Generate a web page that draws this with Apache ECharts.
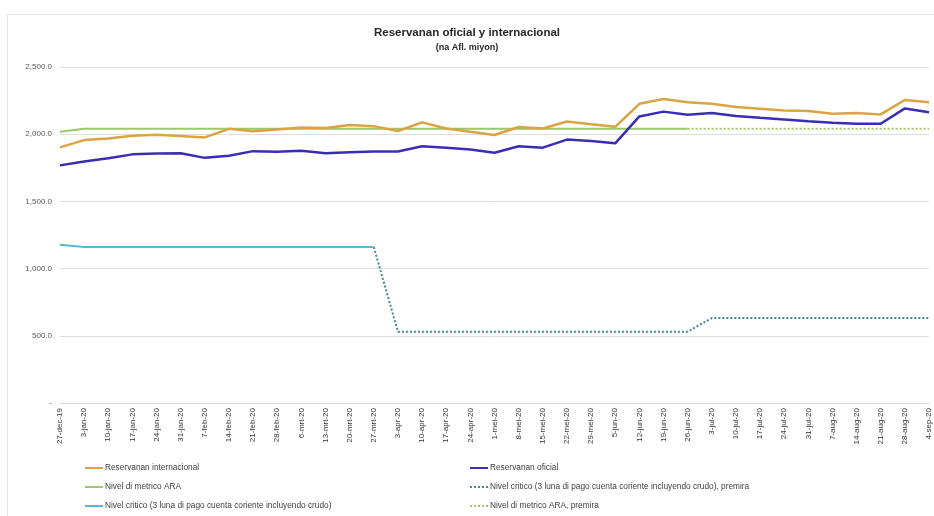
<!DOCTYPE html>
<html>
<head>
<meta charset="utf-8">
<script src="https://cdn.jsdelivr.net/npm/echarts@6/dist/echarts.min.js"></script>
<style>
html,body{margin:0;padding:0;background:#fff;}
#chart{width:934px;height:516px;}
</style>
</head>
<body>
<div id="chart"></div>
<script>
const categories = ['27-dec-19','3-jan-20','10-jan-20','17-jan-20','24-jan-20','31-jan-20','7-feb-20','14-feb-20','21-feb-20','28-feb-20','6-mrt-20','13-mrt-20','20-mrt-20','27-mrt-20','3-apr-20','10-apr-20','17-apr-20','24-apr-20','1-mei-20','8-mei-20','15-mei-20','22-mei-20','29-mei-20','5-jun-20','12-jun-20','19-jun-20','26-jun-20','3-jul-20','10-jul-20','17-jul-20','24-jul-20','31-jul-20','7-aug-20','14-aug-20','21-aug-20','28-aug-20','4-sep-20'];

const reservasInternacional = [1902,1956,1968,1988,1996,1986,1976,2040,2022,2035,2050,2046,2068,2060,2024,2088,2042,2018,1994,2054,2042,2094,2074,2055,2226,2262,2238,2226,2202,2189,2176,2172,2152,2157,2147,2255,2238];

const reservasOficial = [1768,1797,1821,1850,1856,1858,1824,1840,1874,1870,1877,1858,1865,1872,1872,1910,1900,1886,1862,1910,1900,1960,1950,1932,2132,2168,2145,2158,2136,2122,2110,2097,2086,2078,2078,2192,2164];

const nivelARA = [2018,2040,2040,2040,2040,2040,2040,2040,2040,2040,2040,2040,2040,2040,2040,2040,2040,2040,2040,2040,2040,2040,2040,2040,2040,2040,2040,null,null,null,null,null,null,null,null,null,null];

const nivelARAPremira = [null,null,null,null,null,null,null,null,null,null,null,null,null,null,null,null,null,null,null,null,null,null,null,null,null,null,2040,2040,2040,2040,2040,2040,2040,2040,2040,2040,2040];

const nivelCritico = [1178,1160,1160,1160,1160,1160,1160,1160,1160,1160,1160,1160,1160,1160,null,null,null,null,null,null,null,null,null,null,null,null,null,null,null,null,null,null,null,null,null,null,null];

const nivelCriticoPremira = [null,null,null,null,null,null,null,null,null,null,null,null,null,1160,530,530,530,530,530,530,530,530,530,530,530,530,530,632,632,632,632,632,632,632,632,632,632];

const yTicks = [0,500,1000,1500,2000,2500];

const names = {
  intl: 'Reservanan internacional',
  ofi: 'Reservanan oficial',
  ara: 'Nivel di metrico ARA',
  critP: 'Nivel critico (3 luna di pago cuenta coriente incluyendo crudo), premira',
  crit: 'Nivel critico (3 luna di pago cuenta coriente incluyendo crudo)',
  araP: 'Nivel di metrico ARA, premira'
};

const FONT = 'Liberation Sans';
const chart = echarts.init(document.getElementById('chart'));

function fmt(v){
  if (v === 0) return '-';
  return v.toLocaleString('en-US',{minimumFractionDigits:1,maximumFractionDigits:1});
}

const legendText = {fontSize: 8.3, color: '#404040', fontFamily: FONT, padding: [0,0,0,-3]};

chart.setOption({
  animation: false,
  backgroundColor: '#fff',
  graphic: [{
    type: 'rect', left: 5, top: 12,
    shape: {width: 940, height: 520},
    style: {fill: 'none', stroke: '#e3e3e3', lineWidth: 1}
  }],
  title: {
    text: 'Reservanan oficial y internacional',
    subtext: '(na Afl. miyon)',
    left: 'center', top: 22, itemGap: 4,
    textStyle: {fontSize: 11.5, fontWeight: 'bold', color: '#262626', fontFamily: FONT},
    subtextStyle: {fontSize: 9, fontWeight: 'bold', color: '#262626', fontFamily: FONT}
  },
  legend: [{
    left: 84, top: 464, orient: 'vertical', itemGap: 11, padding: 0,
    itemWidth: 18, itemHeight: 8,
    itemStyle: {opacity: 0},
    textStyle: legendText,
    data: [names.intl, names.ara, names.crit]
  },{
    left: 469, top: 464, orient: 'vertical', itemGap: 11, padding: 0,
    itemWidth: 18, itemHeight: 8,
    itemStyle: {opacity: 0},
    textStyle: legendText,
    data: [names.ofi, names.critP, names.araP]
  }],
  grid: {left: 60, right: 5, top: 67, bottom: 113, containLabel: false},
  xAxis: {
    type: 'category',
    data: categories,
    boundaryGap: false,
    axisLine: {show: true, lineStyle: {color: '#d9d9d9'}},
    axisTick: {show: false},
    axisLabel: {
      rotate: 90, interval: 0, fontSize: 8, color: '#333333',
      fontFamily: FONT, margin: 5
    }
  },
  yAxis: {
    type: 'value', min: 0, max: 2500, interval: 500,
    axisLine: {show: false}, axisTick: {show: false},
    splitLine: {lineStyle: {color: '#dedede'}},
    axisLabel: {fontSize: 8, color: '#595959', fontFamily: FONT, margin: 8, formatter: fmt}
  },
  series: [
    {name: names.intl, type: 'line', data: reservasInternacional, symbol: 'none',
     lineStyle: {color: '#D9A441', width: 2.5}, itemStyle: {color: '#D9A441'}, z: 4},
    {name: names.ofi, type: 'line', data: reservasOficial, symbol: 'none',
     lineStyle: {color: '#3A2DB5', width: 2.5}, itemStyle: {color: '#3A2DB5'}, z: 5},
    {name: names.ara, type: 'line', data: nivelARA, symbol: 'none',
     lineStyle: {color: '#9CC86A', width: 2}, itemStyle: {color: '#9CC86A'}, z: 3},
    {name: names.critP, type: 'line', data: nivelCriticoPremira, symbol: 'none',
     lineStyle: {color: '#3D8A9A', width: 2, type: 'dotted'}, itemStyle: {color: '#3D8A9A'}, z: 2},
    {name: names.crit, type: 'line', data: nivelCritico, symbol: 'none',
     lineStyle: {color: '#5BB7D3', width: 2}, itemStyle: {color: '#5BB7D3'}, z: 3},
    {name: names.araP, type: 'line', data: nivelARAPremira, symbol: 'none',
     lineStyle: {color: '#A9C46A', width: 2, type: 'dotted'}, itemStyle: {color: '#A9C46A'}, z: 2}
  ]
});
</script>
</body>
</html>
